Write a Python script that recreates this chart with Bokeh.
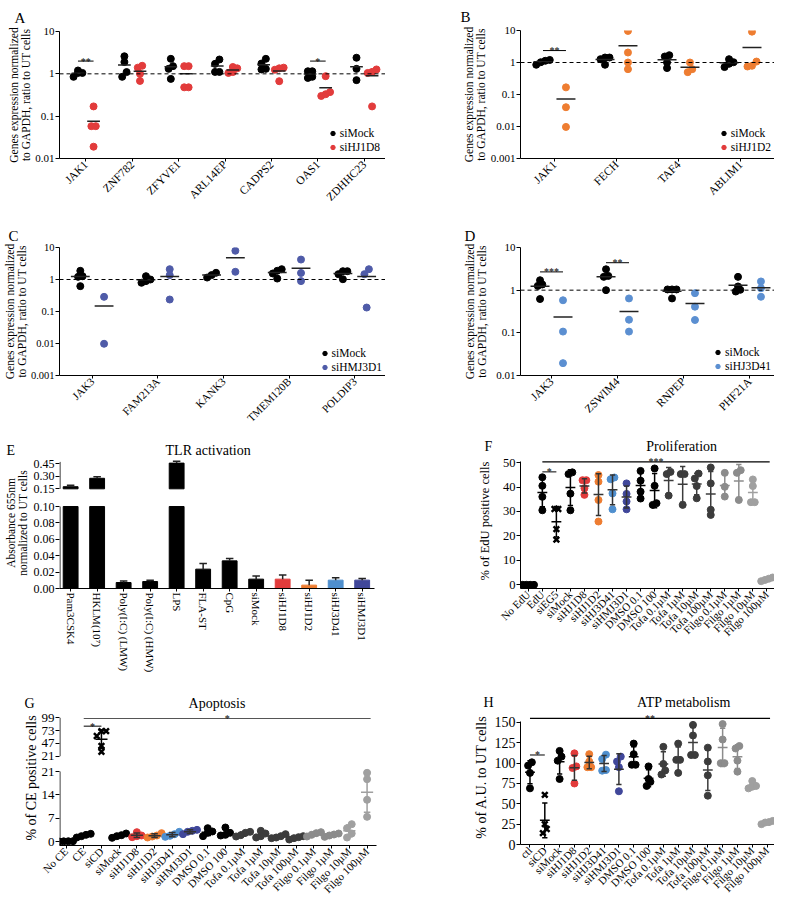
import numpy as np
from math import pi
from bokeh.plotting import figure
from bokeh.models import Range1d, FixedTicker, Span, Label, Legend, LegendItem
from bokeh.layouts import row, column
from bokeh.embed import file_html
from bokeh.resources import INLINE

FONT = "Liberation Serif"

# ---------------- data ----------------
A_genes = ["JAK1", "ZNF782", "ZFYVE1", "ARL14EP", "CADPS2", "OAS1", "ZDHHC23"]
A_mock = [[1.2, 0.85, 1.05, 1.05], [1.9, 0.85, 2.6, 1.1], [2.26, 1.52, 1.31, 0.76],
          [1.72, 2.18, 1.11, 1.11], [1.75, 2.26, 1.27, 1.31], [1.15, 1.15, 0.8, 0.85],
          [2.4, 1.31, 0.71]]
A_kd = [[0.17, 0.058, 0.058, 0.019], [1.4, 1.55, 1.0, 0.68], [1.52, 1.52, 0.48, 0.48],
        [1.45, 1.35, 1.1, 1.05], [1.4, 1.25, 1.35, 0.67], [0.88, 0.30, 0.33, 0.37],
        [1.27, 1.05, 1.11, 0.17]]
A_sig = [(0, "**", 2.0), (5, "*", 2.0)]

B_genes = ["JAK1", "FECH", "TAF4", "ABLIM1"]
B_mock = [[0.85, 1.2, 1.02, 1.13], [1.43, 1.43, 1.27, 0.85], [0.67, 1.54, 1.69, 1.0],
          [1.27, 0.72, 1.02, 0.91]]
B_kd = [[0.167, 0.04, 0.0097], [9.7, 2.05, 1.0, 0.62], [1.0, 0.5, 0.62], [9.2, 1.07, 0.75, 0.79]]
B_sig = [(0, "**", 2.36)]

C_genes = ["JAK3", "FAM213A", "KANK3", "TMEM120B", "POLDIP3"]
C_mock = [[1.87, 0.62, 1.21, 1.27], [1.27, 0.79, 1.0, 0.89], [1.15, 1.62, 1.37],
          [2.1, 1.07, 1.87, 1.54], [1.82, 1.02, 1.82, 1.47]]
C_kd = [[0.287, 0.0098], [2.1, 1.37, 0.237], [7.9, 1.74], [4.2, 1.6, 0.89], [2.1, 1.47, 0.133]]
C_sig = []

D_genes = ["JAK3", "ZSWIM4", "RNPEP", "PHF21A"]
D_mock = [[1.36, 0.62, 1.71, 1.26], [2.16, 3.09, 2.05, 1.0], [1.04, 1.04, 1.04, 0.64],
          [2.05, 0.93, 1.22, 1.02]]
D_kd = [[0.58, 0.107, 0.0195], [0.64, 0.203, 0.107], [0.85, 0.41, 0.2], [1.6, 0.7, 1.11]]
D_sig = [(0, "***", 2.68), (1, "**", 4.4)]

log_ticks = [0.001, 0.01, 0.1, 1, 10]
log_tick_labels = ["0.001", "0.01", "0.1", "1", "10"]

E_cats = ["Pam3CSK4", "HKLM(10\u2077)", "Poly(I:C) (LMW)", "Poly(I:C) (HMW)", "LPS", "FLA-ST",
          "CpG", "siMock", "siHJ1D8", "siHJ1D2", "siHJ3D41", "siHMJ3D1"]
E_vals = [0.175, 0.275, 0.0073, 0.0085, 0.455, 0.0236, 0.0337, 0.0114, 0.0114, 0.0041, 0.0102, 0.0102]
E_err = [0.018, 0.018, 0.002, 0.0017, 0.022, 0.007, 0.003, 0.004, 0.005, 0.006, 0.003, 0.002]
E_low_ticks = [0.0, 0.02, 0.04, 0.06, 0.08, 0.10]
E_up_ticks = [0.15, 0.30, 0.45]

TREAT = ["siMock", "siHJ1D8", "siHJ1D2", "siHJ3D41", "siHMJ3D1", "DMSO 0.1", "DMSO 100",
         "Tofa 0.1\u00b5M", "Tofa 1\u00b5M", "Tofa 10\u00b5M", "Tofa 100\u00b5M",
         "Filgo 0.1\u00b5M", "Filgo 1\u00b5M", "Filgo 10\u00b5M", "Filgo 100\u00b5M"]

F_cats = ["No EdU", "EdU", "siEG5"] + TREAT
F_vals = [[0, 0, 0, 0], [30.5, 36, 40.5, 44], [18.5, 22.8, 31, 31], [30.5, 37.3, 45.3, 46],
          [36.8, 39.5, 42.8, 42.8], [25.9, 34.7, 42.2, 44.9], [30.9, 37.4, 43.2, 43.9],
          [30.9, 34.1, 37.2, 41.5], [35.3, 38.1, 42.6, 46.6], [32.7, 33.4, 40.5, 47.6],
          [36.5, 45.3, 46.2], [32.7, 45.3, 45.3], [35.4, 40.4, 43.5, 45.5], [28.6, 30.7, 41.5, 48.0],
          [36.1, 40.1, 45.8], [34.7, 45.8, 46.9], [33.8, 33.8, 40.4, 43.1], [1.5, 2.0, 2.5, 3.0]]
F_ticks = [0, 10, 20, 30, 40, 50]
F_sig_small = [(1, 2, 46.2, "*")]
F_sig_big = [(1, 17, 50.3, "***")]

G_cats = ["No CE", "CE", "siCD"] + TREAT
G_vals = [[0.05, 0.1, 0.0, 0.08], [1.2, 1.6, 2.3, 2.0], [72, 72, 62, 42, 30], [1.1, 1.6, 2.4, 1.9],
          [1.3, 2.8, 1.8, 1.6], [1.2, 2.5, 1.8, 1.5], [1.4, 2.9, 2.2, 1.7], [2.2, 3.5, 2.9, 3.2],
          [1.6, 4.0, 2.6, 3.0], [1.8, 4.2, 2.0, 2.6], [1.5, 2.9, 2.6, 1.9], [1.2, 3.2, 2.4, 1.6],
          [1.0, 2.2, 1.6, 1.2], [0.6, 1.6, 1.3, 1.0], [1.5, 2.8, 2.5, 2.0], [1.4, 2.4, 2.1, 1.8],
          [1.2, 5.2, 4.0, 2.4], [7.4, 12.5, 18.7, 20.6]]
G_low_ticks = [0, 7, 14, 21]
G_up_ticks = [21, 47, 73, 99]
G_sig_small = [(1, 2, 82.0, "*")]
G_sig_big = [(1, 17, 97.6, "*")]

H_cats = ["ctl", "siCD"] + TREAT
H_vals = [[69, 88, 97, 101], [14, 19, 25, 61], [80.5, 103, 108, 115], [75, 94, 96, 112],
          [95, 95, 102, 111], [90.7, 91.5, 105, 110.4], [65.4, 95, 102, 108], [98, 98, 111, 124],
          [72, 77, 80.5, 96], [86, 91, 99, 120], [88, 104, 104, 124], [110, 110, 134, 147],
          [60, 85, 102, 119], [100, 100, 129, 148], [89.5, 103, 118, 121], [69, 71, 72, 78],
          [25, 27, 27.5, 29]]
H_ticks = [0, 25, 50, 75, 100, 125, 150]
H_sig_small = [(0, 1, 110.0, "*")]
H_sig_big = [(0, 16, 154.9, "**")]

# ---------------- styles ----------------
BLACK = "#000000"
RED = "#E23B3B"
ORANGE = "#EE7D31"
BLUE_C = "#4F5BA8"
BLUE_D = "#5B8FD1"
LBLUE = "#4F8FCE"
DBLUE = "#40479A"
TOFA = "#3C3C3C"
FIL1 = "#8C8C8C"
FIL2 = "#A0A0A0"
TREAT_COLORS = [BLACK, RED, ORANGE, LBLUE, DBLUE, BLACK, BLACK, TOFA, TOFA, TOFA, TOFA,
                FIL1, FIL1, FIL2, FIL2]
E_colors = [BLACK] * 8 + [RED, ORANGE, LBLUE, DBLUE]

W_REG = {' ': .25, ',': .25, '.': .25, '%': .833, '(': .333, ')': .333, ':': .278, '-': .333,
         'a': .444, 'b': .5, 'c': .444, 'd': .5, 'e': .444, 'f': .333, 'g': .5, 'h': .5, 'i': .278,
         'j': .278, 'k': .5, 'l': .278, 'm': .778, 'n': .5, 'o': .5, 'p': .5, 'q': .5, 'r': .333,
         's': .389, 't': .278, 'u': .5, 'v': .5, 'w': .722, 'x': .5, 'y': .5, 'z': .444,
         'A': .722, 'B': .667, 'C': .667, 'D': .722, 'E': .611, 'F': .556, 'G': .722, 'H': .722,
         'I': .333, 'J': .389, 'K': .722, 'L': .611, 'M': .889, 'N': .722, 'O': .722, 'P': .556,
         'R': .667, 'S': .556, 'T': .611, 'U': .722, 'V': .722, 'W': .944}
NBSP_EM = 0.265

LEFT_X0 = 8      # page x of the left column
RIGHT_X0 = 393   # page x of the right column
LEFT_FR = 393    # common frame right edge, left column
RIGHT_FR = 782   # common frame right edge, right column


def text_w(s, size):
    return size * sum(W_REG.get(ch, 0.5) for ch in s)


def swarm(vals, to_px, xppu, spacing=5.0, thr=5.0):
    order = sorted(range(len(vals)), key=lambda i: vals[i])
    rows = []
    for i in order:
        y = to_px(vals[i])
        if rows and abs(y - rows[-1][0]) < thr:
            rows[-1][1].append(i)
        else:
            rows.append([y, [i]])
    offs = [0.0] * len(vals)
    for _, idx in rows:
        k = len(idx)
        for j, i in enumerate(idx):
            offs[i] = (j - (k - 1) / 2) * spacing / xppu
    return offs


def base(geom, xr, yr, ylog=False):
    W, H, L, R, T, B = geom
    p = figure(width=W, height=H, x_range=Range1d(*xr), y_range=Range1d(*yr), title="",
               y_axis_type="log" if ylog else "linear", output_backend="svg",
               toolbar_location=None, min_border_left=L, min_border_right=R,
               min_border_top=T, min_border_bottom=B)
    p.outline_line_color = None
    p.grid.visible = False
    p.background_fill_color = "white"
    p.border_fill_color = "white"
    p.axis.axis_line_color = "black"
    p.axis.axis_line_width = 1
    p.axis.major_tick_line_color = "black"
    p.axis.major_tick_out = 4
    p.axis.major_tick_in = 0
    p.axis.minor_tick_out = 0
    p.axis.minor_tick_in = 0
    p.axis.minor_tick_line_color = None
    p.axis.major_label_text_font = FONT
    p.axis.major_label_text_color = "black"
    p.axis.major_label_standoff = 1
    p.axis.axis_label_text_font = FONT
    p.axis.axis_label_text_font_style = "normal"
    p.axis.axis_label_text_color = "black"
    p.xaxis.major_tick_out = 3
    return p


def set_title(p, text, offset, standoff, size=14):
    p.title.text = text
    p.title.align = "left"
    p.title.offset = offset
    p.title.standoff = standoff
    p.title.text_font = FONT
    p.title.text_font_size = f"{size}px"
    p.title.text_font_style = "normal"
    p.title.text_color = "black"


def letter_title(letter, title, letter_x, title_center, size=14):
    gap = title_center - text_w(title, size) / 2 - (letter_x + text_w(letter, size))
    n = max(1, int(round(gap / (NBSP_EM * size))))
    return letter + "\u00a0" * n + title


def ytitle(p, text, size, standoff, line_height=1.0):
    p.yaxis.axis_label = text
    p.yaxis.axis_label_text_font_size = f"{size}px"
    p.yaxis.axis_label_standoff = standoff
    p.yaxis.axis_label_text_line_height = line_height


def star(p, x, y, text):
    p.add_layout(Label(x=x, y=y, text=text, text_align="center", text_baseline="alphabetic",
                       text_font=FONT, text_font_size="10px", text_color="black"))


def leg_x(frame_w, label, size=11.5):
    return frame_w - (13 + text_w(label, size)) - 3


def geom_of(x0, frame_l, frame_r, H, T, B):
    # canvas starts at page x0; frame spans page frame_l..frame_r; right border 0
    return (frame_r - x0, H, frame_l - x0, 0, T, B)


def expr_panel(geom, xr, yr, genes, mock, kd, kd_color, leg_color, kd_label, sig, d, mean_hw,
               letter, letter_off, t_standoff, y_standoff, leg_y, xfont, ytick_font, leg_dx=0):
    W, H, L, R, T, B = geom
    p = base(geom, xr, yr, ylog=True)
    fw, fh = W - L - R, H - T - B
    xppu = fw / (xr[1] - xr[0])
    ppd = fh / (np.log10(yr[1]) - np.log10(yr[0]))
    to_px = lambda v: np.log10(v) * ppd
    p.add_layout(Span(location=1, dimension="width", line_color="black", line_width=1,
                      line_dash="4 3"))
    xs_m, ys_m, xs_k, ys_k, mx, my = [], [], [], [], [], []
    for gi in range(len(genes)):
        for vals, cx, xs, ys in ((mock[gi], gi - d, xs_m, ys_m), (kd[gi], gi + d, xs_k, ys_k)):
            offs = swarm(vals, to_px, xppu, spacing=4.5)
            xs += [cx + o for o in offs]
            ys += list(vals)
            mx.append(cx)
            my.append(float(np.mean(vals)))
    r_m = p.scatter(xs_m, ys_m, size=7, fill_color=BLACK, line_color=BLACK)
    r_k = p.scatter(xs_k, ys_k, size=7, fill_color=kd_color, line_color=kd_color)
    hw = mean_hw / xppu
    p.segment(x0=[x - hw for x in mx], y0=my, x1=[x + hw for x in mx], y1=my,
              line_color="#222222", line_width=1.5)
    for gi, stars, lvl in sig:
        p.segment(x0=[gi - d], y0=[lvl], x1=[gi + d], y1=[lvl], line_color="black", line_width=1)
        star(p, gi, lvl, stars)
    if leg_color == kd_color:
        r_leg = r_k
    else:
        r_leg = p.scatter([xr[0] - 5], [1], size=7, fill_color=leg_color, line_color=leg_color)
    leg = Legend(items=[LegendItem(label="siMock", renderers=[r_m]),
                        LegendItem(label=kd_label, renderers=[r_leg])],
                 location=(leg_x(fw, kd_label) + leg_dx, leg_y), label_text_font=FONT,
                 label_text_font_size="11.5px", label_text_color="black",
                 glyph_width=11, glyph_height=14, label_height=14, label_standoff=2,
                 spacing=0, padding=0, margin=0, border_line_color=None,
                 background_fill_alpha=0)
    p.add_layout(leg)
    p.yaxis.ticker = FixedTicker(ticks=[t for t in log_ticks if yr[0] <= t <= yr[1]])
    p.yaxis.major_label_overrides = {t: s for t, s in zip(log_ticks, log_tick_labels)}
    p.yaxis.major_label_text_font_size = ytick_font
    p.xaxis.ticker = FixedTicker(ticks=list(range(len(genes))))
    p.xaxis.major_label_overrides = {i: g for i, g in enumerate(genes)}
    p.xaxis.major_label_orientation = pi / 4
    p.xaxis.major_label_text_font_size = xfont
    set_title(p, letter, letter_off, t_standoff, 15)
    ytitle(p, "Genes expression normalized\nto GAPDH, ratio to UT cells", 11.5, y_standoff)
    return p


pA = expr_panel(geom_of(LEFT_X0, 60, LEFT_FR, 220, 31, 62), (-0.566, 6.457), (0.01, 10), A_genes,
                A_mock, A_kd, RED, RED, "siHJ1D8", A_sig, 0.168, 6.5, "A", -45, 12, 0, 4,
                "11.5px", "11px", leg_dx=-9)
pB = expr_panel(geom_of(RIGHT_X0, 528, RIGHT_FR, 220, 30, 62), (-0.548, 3.548), (0.001, 10),
                B_genes, B_mock, B_kd, ORANGE, RED, "siHJ1D2", B_sig, 0.185, 9.5, "B", -60, 11, 1,
                4, "11.5px", "11px")
pC = expr_panel(geom_of(LEFT_X0, 64, LEFT_FR, 215, 27, 60), (-0.498, 4.468), (0.001, 10), C_genes,
                C_mock, C_kd, BLUE_C, BLUE_C, "siHMJ3D1", C_sig, 0.181, 9.5, "C", -51, 8, 0, 1,
                "11px", "10.5px", leg_dx=-3)
pD = expr_panel(geom_of(RIGHT_X0, 528, RIGHT_FR, 215, 27, 60), (-0.47, 3.379), (0.01, 10),
                D_genes, D_mock, D_kd, BLUE_D, BLUE_D, "siHJ3D41", D_sig, 0.174, 9.5, "D", -56, 8,
                5, 2, "11.5px", "11px")

# ---------------- E (broken axis) ----------------
E_LOW_TOP, E_UP_BOT, E_GAP, E_K = 0.10, 0.15, 0.0216, 0.1028


def e_up(v):
    return E_LOW_TOP + E_GAP + (v - E_UP_BOT) * E_K


def e_u(v):
    return v if v <= E_LOW_TOP else e_up(v)


geomE = geom_of(LEFT_X0, 63, LEFT_FR, 247, 22, 94)
xrE = (-0.42, 11.88)
pE = base(geomE, xrE, (0, 0.1598))
xppuE = (geomE[0] - geomE[2] - geomE[3]) / (xrE[1] - xrE[0])
xsE = list(range(len(E_cats)))
bw = 0.56
pE.vbar(x=xsE, width=bw, bottom=0, top=[min(v, E_LOW_TOP) for v in E_vals],
        fill_color=E_colors, line_color=E_colors)
upi = [i for i, v in enumerate(E_vals) if v > E_UP_BOT]
pE.vbar(x=upi, width=bw, bottom=e_up(E_UP_BOT), top=[e_u(E_vals[i]) for i in upi],
        fill_color=[E_colors[i] for i in upi], line_color=[E_colors[i] for i in upi])
topsE = [e_u(v) for v in E_vals]
capsE = [e_u(v + e) for v, e in zip(E_vals, E_err)]
chw = 3.8 / xppuE
pE.segment(x0=xsE, y0=topsE, x1=xsE, y1=capsE, line_color="#222222", line_width=1.5)
pE.segment(x0=[x - chw for x in xsE], y0=capsE, x1=[x + chw for x in xsE], y1=capsE,
           line_color="#222222", line_width=1.5)
ax_x = xrE[0] + 0.5 / xppuE
pE.segment(x0=[ax_x, ax_x], y0=[0, e_up(E_UP_BOT)], x1=[ax_x, ax_x],
           y1=[E_LOW_TOP, e_up(max(E_up_ticks)) + 0.002], line_color="black", line_width=1)
pE.yaxis.axis_line_color = None
pE.xaxis.bounds = (xrE[0], 11.47)
e_ticks = [round(t, 6) for t in E_low_ticks] + [round(e_up(t), 6) for t in E_up_ticks]
e_labels = [f"{t:.2f}" for t in E_low_ticks + E_up_ticks]
pE.yaxis.ticker = FixedTicker(ticks=e_ticks)
pE.yaxis.major_label_overrides = dict(zip(e_ticks, e_labels))
pE.yaxis.major_label_text_font_size = "12px"
pE.xaxis.ticker = FixedTicker(ticks=xsE)
pE.xaxis.major_label_overrides = {i: c for i, c in enumerate(E_cats)}
pE.xaxis.major_label_orientation = "vertical"
pE.xaxis.major_label_text_font_size = "11px"
set_title(pE, letter_title("E", "TLR activation", 10, 219), 10 - 63, 0)
ytitle(pE, "Absorbance 655nm\nnormalized to UT cells", 11.5, 2)


# ---------------- dot panels F, G, H ----------------
def dot_panel(geom, xr, yr, cats, groups, colors, markers, to_u, sig_small, sig_big, big_col):
    W, H, L, R, T, B = geom
    p = base(geom, xr, yr)
    xppu = (W - L - R) / (xr[1] - xr[0])
    yppu = (H - T - B) / (yr[1] - yr[0])
    mhw, chw = 6.5 / xppu, 3.5 / xppu
    for i, vals in enumerate(groups):
        c = colors[i]
        us = [to_u(v) for v in vals]
        offs = swarm(us, lambda u: u * yppu, xppu, spacing=5.0)
        xs = [i + o for o in offs]
        if markers[i] == "x":
            p.scatter(xs, us, marker="x", size=8, line_color=c, line_width=2.5)
        else:
            p.scatter(xs, us, marker="circle", size=7, fill_color=c, line_color=c)
    for i, vals in enumerate(groups):
        c = colors[i]
        ec = c if c in (BLACK, TOFA, FIL1, FIL2) else "#333333"
        m = float(np.mean(vals))
        s = float(np.std(vals, ddof=1))
        lo, hi, mu = to_u(m - s), to_u(m + s), to_u(m)
        p.segment(x0=[i - mhw], y0=[mu], x1=[i + mhw], y1=[mu], line_color=ec, line_width=1.5)
        p.segment(x0=[i], y0=[lo], x1=[i], y1=[hi], line_color=ec, line_width=1.5)
        p.segment(x0=[i - chw, i - chw], y0=[lo, hi], x1=[i + chw, i + chw], y1=[lo, hi],
                  line_color=ec, line_width=1.5)
    for a, b, lvl, stars in sig_small:
        p.segment(x0=[a], y0=[to_u(lvl)], x1=[b], y1=[to_u(lvl)], line_color="black", line_width=1)
        star(p, (a + b) / 2, to_u(lvl), stars)
    for a, b, lvl, stars in sig_big:
        b2 = b + 0.2
        p.segment(x0=[a], y0=[to_u(lvl)], x1=[b2], y1=[to_u(lvl)], line_color=big_col, line_width=1.2)
        star(p, (a + b2) / 2, to_u(lvl), stars)
    p.xaxis.ticker = FixedTicker(ticks=list(range(len(cats))))
    p.xaxis.major_label_overrides = {i: c for i, c in enumerate(cats)}
    p.xaxis.major_label_orientation = pi / 4
    p.xaxis.major_label_text_font_size = "11px"
    return p, xppu


# F
F_colors = [BLACK, BLACK, BLACK] + TREAT_COLORS
F_markers = ["circle", "circle", "x"] + ["circle"] * len(TREAT)
pF, _ = dot_panel(geom_of(RIGHT_X0, 447, RIGHT_FR, 210, 18, 55), (-0.557, 17.543), (-1.5, 53.72),
                  F_cats, F_vals, F_colors, F_markers, lambda v: v, F_sig_small, F_sig_big, "black")
pF.yaxis.ticker = FixedTicker(ticks=F_ticks)
pF.yaxis.bounds = (-1.5, 50.5)
pF.yaxis.major_label_text_font_size = "12.5px"
set_title(pF, letter_title("F", "Proliferation", 411, 617), 411 - 447, 0)
ytitle(pF, "% of EdU positive cells", 12.5, 8)

# G (broken axis)
G_LOW_TOP, G_UP_BOT, G_GAP, G_K = 21.0, 21.0, 4.59, 0.1477


def g_up(v):
    return G_LOW_TOP + G_GAP + (v - G_UP_BOT) * G_K


def g_u(v):
    return v if v <= G_LOW_TOP else g_up(v)


G_colors = [BLACK, BLACK, BLACK] + TREAT_COLORS
G_markers = ["circle", "circle", "x"] + ["circle"] * len(TREAT)
xrG = (-0.368, 18.04)
yrG = (-1.2, 39.3)
pG, xppuG = dot_panel(geom_of(LEFT_X0, 44, LEFT_FR, 220, 28, 57), xrG, yrG, G_cats, G_vals,
                      G_colors, G_markers, g_u, G_sig_small, G_sig_big, "#555555")
axg = xrG[0] + 0.5 / xppuG
pG.segment(x0=[axg, axg], y0=[yrG[0], g_up(G_UP_BOT)], x1=[axg, axg],
           y1=[G_LOW_TOP, g_up(max(G_up_ticks))], line_color="black", line_width=1)
pG.yaxis.axis_line_color = None
pG.xaxis.bounds = (xrG[0], 17.51)
g_ticks = [round(float(t), 6) for t in G_low_ticks] + [round(g_up(t), 6) for t in G_up_ticks]
g_labels = [str(t) for t in G_low_ticks + G_up_ticks]
pG.yaxis.ticker = FixedTicker(ticks=g_ticks)
pG.yaxis.major_label_overrides = dict(zip(g_ticks, g_labels))
pG.yaxis.major_label_text_font_size = "13px"
set_title(pG, letter_title("G", "Apoptosis", 9, 211), 9 - 44, 0)
ytitle(pG, "% of CE positive cells", 14, 0)

# H
H_colors = [BLACK, BLACK] + TREAT_COLORS
H_markers = ["circle", "x"] + ["circle"] * len(TREAT)
pH, _ = dot_panel(geom_of(RIGHT_X0, 445, RIGHT_FR, 257, 64, 58), (-0.64, 16.5), (0, 165.9), H_cats,
                  H_vals, H_colors, H_markers, lambda v: v, H_sig_small, H_sig_big, "black")
pH.yaxis.ticker = FixedTicker(ticks=H_ticks)
pH.yaxis.bounds = (0, 151)
pH.yaxis.major_label_text_font_size = "14px"
set_title(pH, letter_title("H", "ATP metabolism", 408, 617), 408 - 445, 0)
ytitle(pH, "% of A.U. to UT cells", 14, 3)

layout = row(column(pA, pC, pE, pG), column(pB, pD, pF, pH))
open("out.html", "w").write(file_html(layout, INLINE))
